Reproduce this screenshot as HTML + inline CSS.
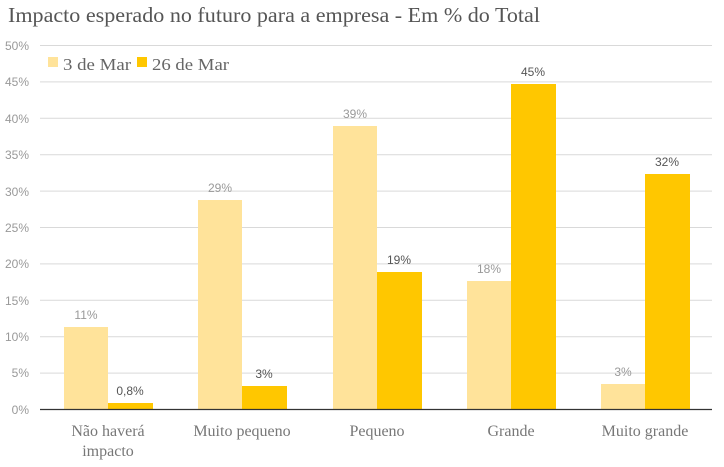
<!DOCTYPE html>
<html><head><style>
body{margin:0;background:#fff;}
svg{display:block;}
.s{font-family:"Liberation Serif",serif;}
.n{font-family:"Liberation Sans",sans-serif;}
</style></head><body>
<svg width="724" height="467" xmlns="http://www.w3.org/2000/svg">
<text x="8" y="22" class="s" font-size="21" fill="#555" textLength="532" lengthAdjust="spacingAndGlyphs">Impacto esperado no futuro para a empresa - Em % do Total</text>
<g stroke="#d9d9d9" stroke-width="1">
<line x1="40" x2="712" y1="45.5" y2="45.5"/>
<line x1="40" x2="712" y1="81.9" y2="81.9"/>
<line x1="40" x2="712" y1="118.3" y2="118.3"/>
<line x1="40" x2="712" y1="154.7" y2="154.7"/>
<line x1="40" x2="712" y1="191.1" y2="191.1"/>
<line x1="40" x2="712" y1="227.5" y2="227.5"/>
<line x1="40" x2="712" y1="263.9" y2="263.9"/>
<line x1="40" x2="712" y1="300.3" y2="300.3"/>
<line x1="40" x2="712" y1="336.7" y2="336.7"/>
<line x1="40" x2="712" y1="373.1" y2="373.1"/>
</g>
<g class="n" font-size="12" fill="#999" text-anchor="end">
<text x="29" y="50">50%</text><text x="29" y="86">45%</text><text x="29" y="123">40%</text>
<text x="29" y="159">35%</text><text x="29" y="196">30%</text><text x="29" y="232">25%</text>
<text x="29" y="268">20%</text><text x="29" y="305">15%</text><text x="29" y="341">10%</text>
<text x="29" y="377">5%</text><text x="29" y="414">0%</text>
</g>
<rect x="48" y="57" width="10" height="10" fill="#FFE39A"/>
<text x="63" y="70" class="s" font-size="17" fill="#666" textLength="68" lengthAdjust="spacingAndGlyphs">3 de Mar</text>
<rect x="137" y="57" width="10" height="10" fill="#FFC700"/>
<text x="152" y="70" class="s" font-size="17" fill="#666" textLength="77" lengthAdjust="spacingAndGlyphs">26 de Mar</text>
<g fill="#FFE39A">
<rect x="64" y="327" width="44" height="82"/>
<rect x="198" y="200" width="44" height="209"/>
<rect x="333" y="126" width="44" height="283"/>
<rect x="467" y="281" width="44" height="128"/>
<rect x="601" y="384" width="44" height="25"/>
</g>
<g fill="#FFC700">
<rect x="108" y="403" width="45" height="6"/>
<rect x="242" y="386" width="45" height="23"/>
<rect x="377" y="272" width="45" height="137"/>
<rect x="511" y="84" width="45" height="325"/>
<rect x="645" y="174" width="45" height="235"/>
</g>
<line x1="40" x2="712" y1="409.5" y2="409.5" stroke="#333" stroke-width="1.3"/>
<g class="n" font-size="12" fill="#999" text-anchor="middle">
<text x="86" y="319">11%</text><text x="220" y="192">29%</text><text x="355" y="118">39%</text>
<text x="489" y="273">18%</text><text x="623" y="376">3%</text>
</g>
<g class="n" font-size="12" fill="#555" text-anchor="middle">
<text x="130" y="395">0,8%</text><text x="264" y="378">3%</text><text x="399" y="264">19%</text>
<text x="533" y="76">45%</text><text x="667" y="166">32%</text>
</g>
<g class="s" font-size="16" fill="#777" text-anchor="middle">
<text x="108" y="436">Não haverá</text><text x="108" y="456">impacto</text>
<text x="242" y="436">Muito pequeno</text>
<text x="377" y="436">Pequeno</text>
<text x="511" y="436">Grande</text>
<text x="645" y="436">Muito grande</text>
</g>
</svg>
</body></html>
